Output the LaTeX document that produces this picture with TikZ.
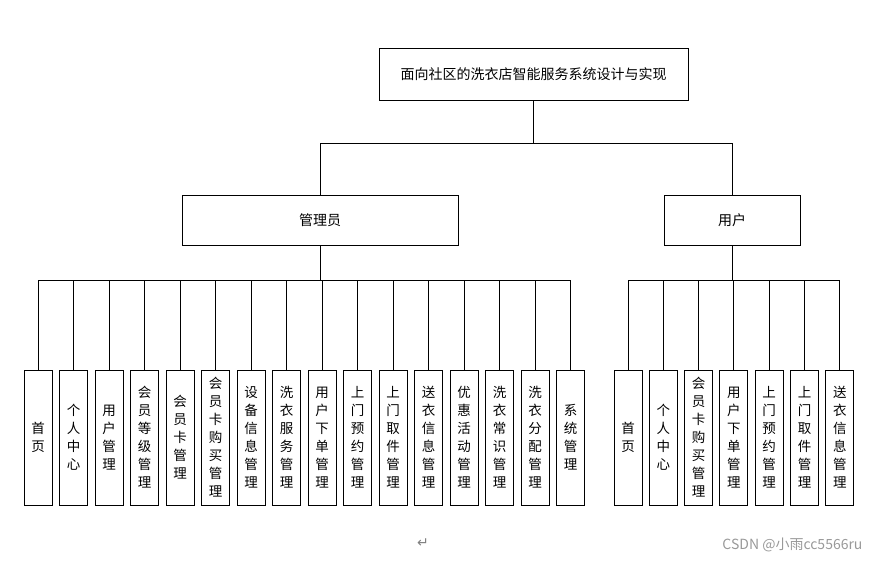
\documentclass[tikz,border=0pt]{standalone}
\usepackage{fontspec}
\setmainfont{Noto Sans CJK SC}
\newfontfamily\djv{DejaVu Sans}
\begin{document}
\begin{tikzpicture}[x=1pt,y=-1pt,
  box/.style={draw,line width=0.9pt,inner sep=0pt,font=\fontsize{14}{16}\selectfont},
  leaf/.style={draw,line width=0.9pt,inner sep=0pt,minimum width=28pt,minimum height=135pt,align=center,font=\fontsize{13.5}{18}\selectfont},
  conn/.style={line width=0.9pt}]
\useasboundingbox (0,0) rectangle (869,560);
\node[box,minimum width=309pt,minimum height=52pt] (root) at (533.5,74) {面向社区的洗衣店智能服务系统设计与实现};
\node[box,minimum width=276pt,minimum height=50pt] (adm) at (320,220) {管理员};
\node[box,minimum width=136pt,minimum height=50pt] (usr) at (732,220) {用户};
\coordinate (rb) at (533.5,143);
\draw[conn] (root.south) -- (rb);
\draw[conn] (adm.north) |- (usr.north |- rb) -- (usr.north);
\def\busy{280}
\foreach \t [count=\i from 0] in {首\\页,个\\人\\中\\心,用\\户\\管\\理,会\\员\\等\\级\\管\\理,会\\员\\卡\\管\\理,会\\员\\卡\\购\\买\\管\\理,设\\备\\信\\息\\管\\理,洗\\衣\\服\\务\\管\\理,用\\户\\下\\单\\管\\理,上\\门\\预\\约\\管\\理,上\\门\\取\\件\\管\\理,送\\衣\\信\\息\\管\\理,优\\惠\\活\\动\\管\\理,洗\\衣\\常\\识\\管\\理,洗\\衣\\分\\配\\管\\理,系\\统\\管\\理}{
  \node[leaf] (a\i) at ({38+35.5*\i},437.5) {\t};
  \draw[conn] (a\i.north) -- ({38+35.5*\i},\busy);
}
\draw[conn] (a0.north |- 0,\busy) -- (a15.north |- 0,\busy);
\draw[conn] (adm.south) -- (adm.south |- 0,\busy);
\foreach \t [count=\i from 0] in {首\\页,个\\人\\中\\心,会\\员\\卡\\购\\买\\管\\理,用\\户\\下\\单\\管\\理,上\\门\\预\\约\\管\\理,上\\门\\取\\件\\管\\理,送\\衣\\信\\息\\管\\理}{
  \node[leaf] (u\i) at ({628+35.3*\i},437.5) {\t};
  \draw[conn] (u\i.north) -- ({628+35.3*\i},\busy);
}
\draw[conn] (u0.north |- 0,\busy) -- (u6.north |- 0,\busy);
\draw[conn] (usr.south) -- (usr.south |- 0,\busy);
\node[text=gray,font=\djv\fontsize{14}{16}\selectfont] (ret) at (423,543) {↵};
\node[text=gray!80,font=\fontsize{14}{16}\selectfont,anchor=east] (wm) at (866,545) {CSDN @小雨cc5566ru};
\end{tikzpicture}
\end{document}
